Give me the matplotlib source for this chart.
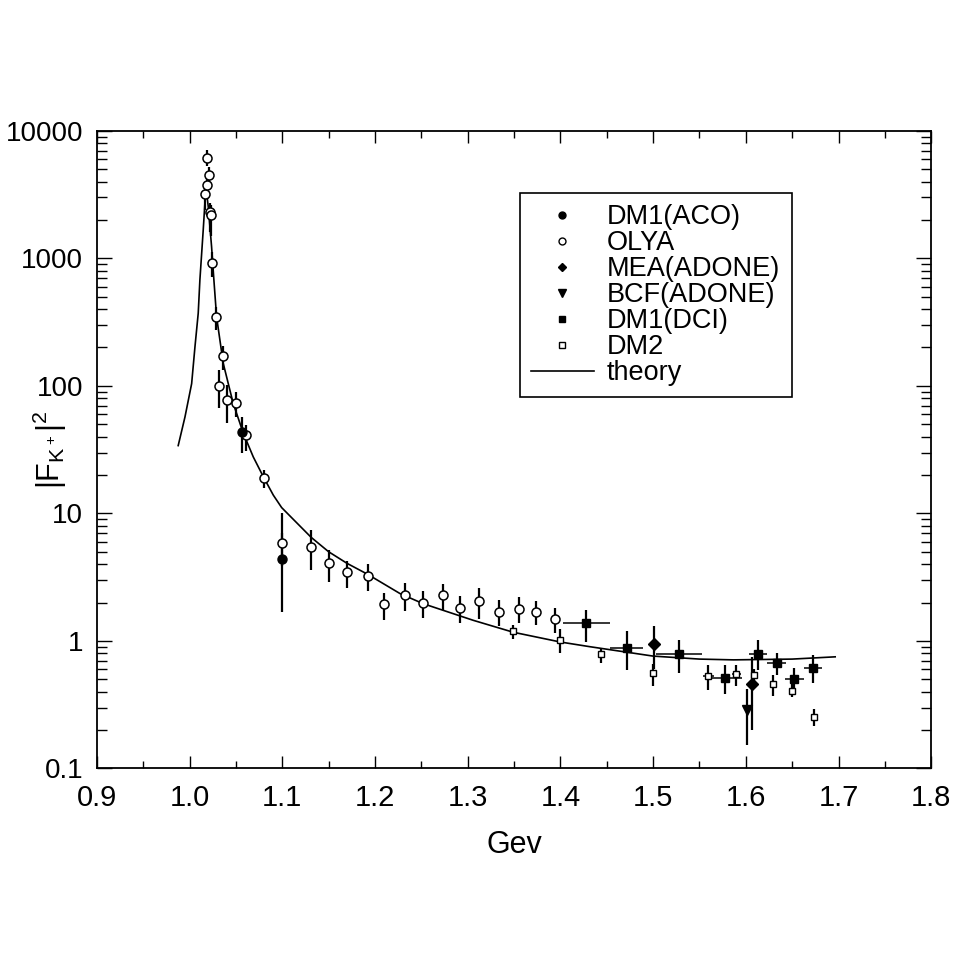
import numpy as np
import matplotlib
matplotlib.use('Agg')
import matplotlib.pyplot as plt
from matplotlib.ticker import MultipleLocator, LogLocator, FixedLocator, FixedFormatter, NullFormatter
from matplotlib.lines import Line2D

plt.rcParams['font.family'] = ['Liberation Sans', 'DejaVu Sans']
plt.rcParams['mathtext.fontset'] = 'custom'
plt.rcParams['mathtext.rm'] = 'Liberation Sans'
plt.rcParams['mathtext.it'] = 'Liberation Sans'

# OLYA - open circles
olya_x = [1.0166, 1.0184, 1.0190, 1.0212, 1.0215, 1.0230, 1.0237, 1.0290, 1.0320, 1.0356,
          1.0400, 1.0500, 1.0608, 1.0800, 1.0993, 1.1310, 1.1500, 1.1700, 1.1920, 1.2097,
          1.2320, 1.2518, 1.2734, 1.2920, 1.3119, 1.3335, 1.3558, 1.3737, 1.3946]
olya_y = [3200, 3770, 6100, 4520, 2300, 2200, 925, 345, 100, 170,
          78, 74, 41, 18.8, 5.9, 5.47, 4.1, 3.44, 3.24, 1.94,
          2.28, 2.0, 2.28, 1.82, 2.05, 1.69, 1.79, 1.69, 1.48]
olya_lo = [2400, 2900, 5300, 3900, 1600, 1500, 718, 274, 66.5, 133,
           50.8, 57, 31, 15.7, 3.9, 3.58, 2.9, 2.6, 2.47, 1.47,
           1.72, 1.52, 1.76, 1.39, 1.48, 1.30, 1.39, 1.33, 1.15]
olya_hi = [3900, 4300, 7100, 5200, 2700, 2600, 1130, 418, 133, 205,
           101, 90, 49, 22, 10.0, 7.4, 5.2, 4.24, 4.0, 2.38,
           2.82, 2.47, 2.78, 2.26, 2.58, 2.08, 2.19, 2.05, 1.81]

# DM1(ACO) - filled circles
aco_x = [1.0561, 1.0993]
aco_y = [43.6, 4.37]
aco_lo = [29.5, 1.7]
aco_hi = [57, 7.0]

# MEA(ADONE) - filled diamonds
mea_x = [1.5011, 1.6070]
mea_y = [0.953, 0.462]
mea_lo = [0.60, 0.20]
mea_hi = [1.30, 0.75]

# BCF(ADONE) - filled triangle
bcf_x = [1.6010]
bcf_y = [0.285]
bcf_lo = [0.152]
bcf_hi = [0.42]

# DM1(DCI) - filled squares
dci_x = [1.428, 1.4716, 1.528, 1.5777, 1.613, 1.6334, 1.6524, 1.6723]
dci_y = [1.37, 0.885, 0.785, 0.515, 0.795, 0.674, 0.506, 0.617]
dci_xerr = [0.025, 0.018, 0.025, 0.018, 0.010, 0.010, 0.010, 0.010]
dci_lo = [0.98, 0.59, 0.56, 0.38, 0.59, 0.537, 0.415, 0.47]
dci_hi = [1.74, 1.19, 1.02, 0.643, 1.02, 0.80, 0.617, 0.776]

# DM2 - open squares
dm2_x = [1.3493, 1.3996, 1.4439, 1.4996, 1.5597, 1.5896, 1.6090, 1.6290, 1.6496, 1.6740]
dm2_y = [1.19, 1.02, 0.785, 0.56, 0.527, 0.547, 0.537, 0.457, 0.405, 0.253]
dm2_xerr = [0, 0, 0, 0, 0.006, 0.005, 0, 0, 0, 0]
dm2_lo = [1.04, 0.81, 0.67, 0.44, 0.415, 0.44, 0.47, 0.372, 0.36, 0.215]
dm2_hi = [1.33, 1.24, 0.885, 0.66, 0.643, 0.65, 0.60, 0.537, 0.457, 0.295]

# theory curve
th_x = [0.9877, 0.995, 1.0022, 1.0058, 1.0093, 1.0111, 1.0147, 1.0176, 1.0201, 1.0237,
        1.0262, 1.0291, 1.0363, 1.047, 1.058, 1.0687, 1.0795, 1.0903, 1.0993, 1.131,
        1.150, 1.170, 1.192, 1.227, 1.2518, 1.306, 1.349, 1.40, 1.432, 1.50,
        1.55, 1.5866, 1.65, 1.6964]
th_y = [34, 57, 104, 203, 371, 677, 1670, 3650, 2550, 1236,
        677, 348, 150, 73, 42.4, 27.7, 19.4, 13.9, 11.1, 6.5,
        5.0, 4.05, 3.33, 2.35, 1.96, 1.45, 1.17, 0.98, 0.90, 0.76,
        0.72, 0.71, 0.72, 0.75]


def yerr(y, lo, hi):
    y = np.array(y)
    return [y - np.array(lo), np.array(hi) - y]


fig = plt.figure(figsize=(9.69, 9.69), dpi=100)
ax = fig.add_axes([0.100, 0.207, 0.861, 0.658])

ax.plot(th_x, th_y, color='black', lw=1.2, zorder=2)

ebkw = dict(fmt='none', ecolor='black', elinewidth=1.6, capsize=0, zorder=3)
ax.errorbar(olya_x, olya_y, yerr=yerr(olya_y, olya_lo, olya_hi), **ebkw)
ax.errorbar(aco_x, aco_y, yerr=yerr(aco_y, aco_lo, aco_hi), **ebkw)
ax.errorbar(mea_x, mea_y, yerr=yerr(mea_y, mea_lo, mea_hi), **ebkw)
ax.errorbar(bcf_x, bcf_y, yerr=yerr(bcf_y, bcf_lo, bcf_hi), **ebkw)
ax.errorbar(dci_x, dci_y, yerr=yerr(dci_y, dci_lo, dci_hi), **ebkw)
ax.errorbar(dci_x, dci_y, xerr=dci_xerr, fmt='none', ecolor='black', elinewidth=1.1, capsize=0, zorder=3)
ax.errorbar(dm2_x, dm2_y, yerr=yerr(dm2_y, dm2_lo, dm2_hi), **ebkw)
ax.errorbar(dm2_x, dm2_y, xerr=dm2_xerr, fmt='none', ecolor='black', elinewidth=1.1, capsize=0, zorder=3)

ax.plot(olya_x, olya_y, 'o', ms=6.5, mfc='white', mec='black', mew=1.1, zorder=4)
ax.plot(aco_x, aco_y, 'o', ms=6.5, mfc='black', mec='black', zorder=4)
ax.plot(mea_x, mea_y, 'D', ms=6, mfc='black', mec='black', zorder=4)
ax.plot(bcf_x, bcf_y, 'v', ms=7.5, mfc='black', mec='black', zorder=4)
ax.plot(dci_x, dci_y, 's', ms=6, mfc='black', mec='black', zorder=4)
ax.plot(dm2_x, dm2_y, 's', ms=5, mfc='white', mec='black', mew=1.0, zorder=4)

ax.set_xlim(0.9, 1.8)
ax.set_yscale('log')
ax.set_ylim(0.1, 10000)

ax.xaxis.set_major_locator(MultipleLocator(0.1))
ax.xaxis.set_minor_locator(MultipleLocator(0.05))
ax.xaxis.set_major_formatter(plt.FuncFormatter(lambda v, p: '%.1f' % v))
ax.yaxis.set_major_locator(FixedLocator([0.1, 1, 10, 100, 1000, 10000]))
ax.yaxis.set_major_formatter(FixedFormatter(['0.1', '1', '10', '100', '1000', '10000']))
ax.yaxis.set_minor_locator(LogLocator(base=10, subs=np.arange(2, 10), numticks=20))
ax.yaxis.set_minor_formatter(NullFormatter())

ax.tick_params(axis='x', which='major', direction='in', length=8.5, width=1.0, top=True, labelsize=21, pad=11)
ax.tick_params(axis='x', which='minor', direction='in', length=5, width=1.0, top=True)
ax.tick_params(axis='y', which='major', direction='in', length=11, width=1.0, right=True, labelsize=20, pad=10)
ax.tick_params(axis='y', which='minor', direction='in', length=7, width=1.0, right=True)
for s in ax.spines.values():
    s.set_linewidth(1.3)

ax.set_xlabel('Gev', fontsize=22, labelpad=13)
ax.set_ylabel(r'$|F_{K^+}|^2$', fontsize=22)
ax.yaxis.set_label_coords(-0.034, 0.5)

handles = [
    Line2D([], [], ls='none', marker='o', ms=5, mfc='black', mec='black'),
    Line2D([], [], ls='none', marker='o', ms=5, mfc='white', mec='black', mew=1.0),
    Line2D([], [], ls='none', marker='D', ms=4.5, mfc='black', mec='black'),
    Line2D([], [], ls='none', marker='v', ms=5.5, mfc='black', mec='black'),
    Line2D([], [], ls='none', marker='s', ms=4.5, mfc='black', mec='black'),
    Line2D([], [], ls='none', marker='s', ms=4.5, mfc='white', mec='black', mew=1.0),
    Line2D([], [], color='black', lw=1.2),
]
labels = ['DM1(ACO)', 'OLYA', 'MEA(ADONE)', 'BCF(ADONE)', 'DM1(DCI)', 'DM2', 'theory']
leg = ax.legend(handles, labels, loc='upper left', bbox_to_anchor=(0.507, 0.903),
                borderaxespad=0, fontsize=19.5, frameon=True, fancybox=False,
                edgecolor='black', framealpha=1, labelspacing=0.0,
                handlelength=2.3, handletextpad=0.5, borderpad=0.42)
leg.get_frame().set_linewidth(1.2)

fig.savefig('out.png', dpi=100)
